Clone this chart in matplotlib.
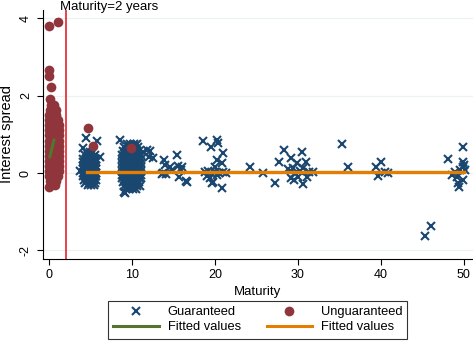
import numpy as np
import matplotlib.pyplot as plt
from matplotlib.lines import Line2D

plt.rcParams['font.family'] = ['Liberation Sans', 'DejaVu Sans']

# guaranteed loans, dense band near 5 years: (spread, [maturities])
g5_rows = [
    (0.55, [4.5, 4.9, 5.3]),
    (0.46, [4.3, 4.7, 5.1, 5.5]),
    (0.37, [4.1, 4.5, 4.9, 5.3, 5.7]),
    (0.28, [4.1, 4.5, 4.9, 5.3, 5.7]),
    (0.19, [4.1, 4.5, 4.9, 5.3, 5.7]),
    (0.10, [4.1, 4.5, 4.9, 5.3, 5.7]),
    (0.01, [4.1, 4.5, 4.9, 5.3, 5.7]),
    (-0.08, [4.1, 4.5, 4.9, 5.3, 5.7]),
    (-0.17, [4.2, 4.6, 5.0, 5.4, 5.7]),
    (-0.26, [4.4, 4.8, 5.2, 5.6]),
    (-0.32, [4.7, 5.1, 5.4]),
]
# guaranteed loans, dense band near 10 years
g10_rows = [
    (0.76, [9.4, 9.8, 10.2, 10.6]),
    (0.66, [9.1, 9.5, 9.9, 10.3, 10.7]),
    (0.56, [8.9, 9.3, 9.7, 10.1, 10.5, 10.9]),
    (0.46, [8.8, 9.2, 9.6, 10.0, 10.4, 10.8, 11.1]),
    (0.36, [8.8, 9.2, 9.6, 10.0, 10.4, 10.8, 11.1]),
    (0.26, [8.8, 9.2, 9.6, 10.0, 10.4, 10.8, 11.1]),
    (0.16, [8.8, 9.2, 9.6, 10.0, 10.4, 10.8, 11.1]),
    (0.06, [8.8, 9.2, 9.6, 10.0, 10.4, 10.8, 11.1]),
    (-0.04, [8.8, 9.2, 9.6, 10.0, 10.4, 10.8, 11.1]),
    (-0.14, [8.8, 9.2, 9.6, 10.0, 10.4, 10.8, 11.1]),
    (-0.24, [8.9, 9.3, 9.7, 10.1, 10.5, 10.9]),
    (-0.34, [9.0, 9.4, 9.8, 10.2, 10.6, 11.0]),
    (-0.42, [9.3, 9.7, 10.1, 10.5]),
]
# guaranteed loans, scattered
g_other_x = [3.7, 4.46, 5.8, 4.1, 6.1, 8.55, 9.0, 9.15, 11.3, 11.8, 12.2, 12.5, 12.0,
             13.9, 14.0, 13.6, 14.1, 13.7, 14.6, 14.8, 15.4, 15.5, 16.0, 15.9, 15.7, 16.6, 16.5,
             18.6, 20.2, 20.4, 19.5, 21.0, 20.2, 20.8, 20.0, 18.8, 19.2, 19.6, 20.0, 20.5, 21.0, 21.3,
             19.4, 19.8, 20.8, 19.6, 19.1, 20.3,
             24.2, 25.8, 27.3, 27.7, 28.3, 29.2, 30.5, 29.4, 29.9, 31.0, 29.2, 29.5, 30.0, 30.6,
             31.1, 31.4, 31.8, 30.6, 28.8, 30.3, 29.7,
             35.3, 36.1, 39.4, 40.0, 39.6, 40.5, 40.9, 45.3, 46.0,
             48.1, 48.6, 49.9, 49.9, 49.9, 49.5, 49.2, 49.3, 49.4, 49.9, 50.1, 48.9, 50.0]
g_other_y = [0.05, 0.9, 0.83, 0.64, 0.41, 0.85, -0.49, -0.52, 0.54, 0.59, 0.57, 0.38, 0.41,
             0.34, 0.21, -0.03, -0.03, 0.0, 0.15, 0.08, 0.46, 0.18, 0.15, 0.08, -0.1, -0.23, -0.2,
             0.83, 0.85, 0.77, 0.67, 0.52, 0.34, 0.26, 0.15, 0.02, 0.04, -0.02, 0.03, 0.0, 0.02, -0.01,
             -0.13, -0.23, -0.39, -0.26, -0.08, -0.06,
             0.16, 0.0, -0.26, 0.28, 0.59, 0.38, 0.54, 0.13, 0.26, 0.28, -0.13, -0.18, -0.1, -0.28,
             -0.1, 0.03, 0.03, 0.13, 0.1, 0.05, 0.0,
             0.75, 0.15, 0.15, 0.28, -0.08, 0.03, 0.0, -1.63, -1.37,
             0.36, -0.05, 0.67, 0.28, 0.15, 0.08, -0.1, -0.26, -0.36, -0.18, 0.08, 0.03, 0.2]

# unguaranteed loans, dense band below 2 years
u_rows = [
    (1.75, [0.2, 0.6]),
    (1.62, [0.1, 0.5, 0.9]),
    (1.49, [0.0, 0.4, 0.8]),
    (1.36, [0.0, 0.4, 0.8, 1.1]),
    (1.23, [0.0, 0.4, 0.8, 1.2]),
    (1.10, [0.0, 0.4, 0.8, 1.2]),
    (0.97, [0.0, 0.4, 0.8, 1.2]),
    (0.84, [0.0, 0.4, 0.8, 1.2]),
    (0.71, [0.0, 0.4, 0.8, 1.2]),
    (0.58, [0.0, 0.4, 0.8, 1.2]),
    (0.45, [0.0, 0.4, 0.8, 1.2]),
    (0.32, [0.0, 0.4, 0.8, 1.2]),
    (0.19, [0.0, 0.4, 0.8, 1.2]),
    (0.06, [0.0, 0.4, 0.8, 1.2]),
    (-0.07, [0.0, 0.4, 0.8, 1.1]),
    (-0.20, [0.1, 0.5, 0.9]),
    (-0.30, [0.3, 0.7]),
]
u_other_x = [0.0, 1.1, 0.0, 0.05, 0.2, 0.1, 0.0, 4.7, 5.3, 9.9]
u_other_y = [3.79, 3.9, 2.66, 2.5, 2.22, 1.9, -0.36, 1.16, 0.7, 0.65]

# fitted lines
fit_u_x = [0.1, 0.6]
fit_u_y = [0.42, 0.85]
fit_g_x = [4.6, 50.0]
fit_g_y = [0.03, 0.03]

cutoff = 2

gx, gy = [], []
for rows in (g5_rows, g10_rows):
    for y, xs in rows:
        gx += xs
        gy += [y] * len(xs)
gx += g_other_x
gy += g_other_y
ux, uy = [], []
for y, xs in u_rows:
    ux += xs
    uy += [y] * len(xs)
ux += u_other_x
uy += u_other_y

navy = '#1a476f'
maroon = '#90353b'
green = '#55752f'
orange = '#e37e00'

fig = plt.figure(figsize=(4.73, 3.45), dpi=100)
ax = fig.add_axes([0.0909, 0.2493, 0.909, 0.7217])

ax.plot(gx, gy, ls='none', marker='x', ms=6.2, mew=1.5, color=navy, zorder=2)
ax.plot(ux, uy, ls='none', marker='o', ms=7, mew=0, color=maroon, zorder=3)
ax.plot(fit_u_x, fit_u_y, color=green, lw=2.2, zorder=4)
ax.plot(fit_g_x, fit_g_y, color=orange, lw=2.4, zorder=4)
ax.axvline(cutoff, color='#e8202a', lw=1.2, zorder=5)
# cutoff label sits at the very top edge of the figure
fig.text(60 / 473, 0.997, 'Maturity=2 years', ha='left', va='top', fontsize=9.5)

ax.set_xlim(-0.72, 51.1)
ax.set_ylim(-2.22, 4.21)
ax.set_xticks([0, 10, 20, 30, 40, 50])
ax.set_yticks([-2, 0, 2, 4])
ax.set_yticklabels(['-2', '0', '2', '4'], rotation=90, va='center')
ax.tick_params(labelsize=9, length=4, width=0.8, color='black')
ax.tick_params(axis='y', pad=4)
ax.yaxis.grid(True, color='#eaf2f3', lw=0.9)
ax.set_axisbelow(True)
for s in ('top', 'right'):
    ax.spines[s].set_visible(False)
ax.spines['left'].set_linewidth(0.8)
ax.spines['bottom'].set_linewidth(0.8)
ax.set_xlabel('Maturity', fontsize=9.5, labelpad=3)
ax.set_ylabel('Interest spread', fontsize=10.5, labelpad=4)

handles = [
    Line2D([], [], ls='none', marker='x', ms=6, mew=1.5, color=navy),
    Line2D([], [], color=green, lw=2.2),
    Line2D([], [], ls='none', marker='o', ms=7, mew=0, color=maroon),
    Line2D([], [], color=orange, lw=2.2),
]
labels = ['Guaranteed', 'Fitted values', 'Unguaranteed', 'Fitted values']
leg = fig.legend(handles, labels, ncol=2, loc='lower center', bbox_to_anchor=(0.545, 0.0),
                 fontsize=9.3, frameon=True, fancybox=False, edgecolor='black',
                 handlelength=3.55, handletextpad=0.65, columnspacing=2.0,
                 labelspacing=0.25, borderpad=0.4)
leg.get_frame().set_linewidth(0.8)

fig.savefig('out.png', dpi=100)
